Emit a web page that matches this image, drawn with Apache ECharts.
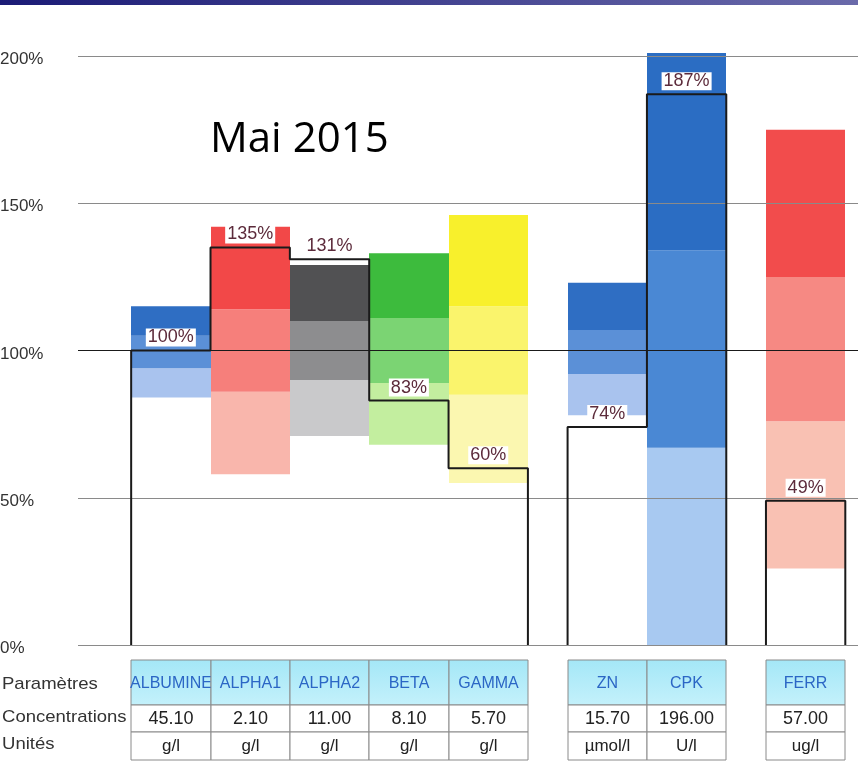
<!DOCTYPE html>
<html>
<head>
<meta charset="utf-8">
<script src="https://cdn.jsdelivr.net/npm/echarts@6/dist/echarts.min.js"></script>
<style>
  html, body { margin: 0; padding: 0; background: #fff; }
  #main { width: 858px; height: 774px; }
</style>
</head>
<body>
<div id="main"></div>
<script>
// --- data ---
var params = ['ALBUMINE', 'ALPHA1', 'ALPHA2', 'BETA', 'GAMMA', 'ZN', 'CPK', 'FERR'];
var panel = [0, 0, 0, 0, 0, 1, 1, 2];          // which table block each parameter belongs to
var concentrations = ['45.10', '2.10', '11.00', '8.10', '5.70', '15.70', '196.00', '57.00'];
var units = ['g/l', 'g/l', 'g/l', 'g/l', 'g/l', 'µmol/l', 'U/l', 'ug/l'];
var results = [100, 135, 131, 83, 60, 74, 187, 49];   // % of reference
// zone limits in %: bottom, then top of light / medium / dark band
var zoneAlbumine = [84, 94, 105, 115];
var zoneAlpha1 = [58, 86, 114, 142];
var zoneAlpha2 = [71, 90, 110, 129];
var zoneBeta = [68, 89, 111, 133];
var zoneGamma = [55, 85, 115, 146];
var zoneZn = [78, 92, 107, 123];
var zoneCpk = [0, 67, 134, 201];
var zoneFerr = [26, 76, 125, 175];
var zones = [zoneAlbumine, zoneAlpha1, zoneAlpha2, zoneBeta, zoneGamma, zoneZn, zoneCpk, zoneFerr];
var yTicks = [0, 50, 100, 150, 200];
var rowNames = ['Paramètres', 'Concentrations', 'Unités'];
var title = 'Mai 2015';

// --- styles ---
var blue = ['#a9c3ee', '#5b90d7', '#2f6ec3'];
var red = ['#f9b6ac', '#f67f7b', '#f24848'];
var gray = ['#c9c9cb', '#8d8d8f', '#515153'];
var green = ['#c3ee9f', '#7bd473', '#3dbb3d'];
var yellow = ['#fbf7b0', '#faf46c', '#f8f02c'];
var cpkBlue = ['#a8c9f1', '#4a88d4', '#2b6dc3'];
var ferrRed = ['#f9c1b3', '#f68983', '#f24c4c'];
var colColors = [blue, red, gray, green, yellow, blue, cpkBlue, ferrRed];
var sans = '"Liberation Sans", Arial, sans-serif';

// each table block is separated by half a column
function colStart(i) { return i + 0.5 * panel[i]; }

var bandData = [];
zones.forEach(function (z, i) {
    for (var b = 0; b < 3; b++) {
        bandData.push([colStart(i), z[b], z[b + 1], i, b]);
    }
});

var stepSeries = [0, 1, 2].map(function (g) {
    var idx = params.map(function (p, i) { return i; }).filter(function (i) { return panel[i] === g; });
    var pts = [[colStart(idx[0]), 0]];
    idx.forEach(function (i) {
        pts.push([colStart(i), results[i]]);
        pts.push([colStart(i) + 1, results[i]]);
    });
    pts.push([colStart(idx[idx.length - 1]) + 1, 0]);
    return {
        type: 'line',
        data: pts,
        symbol: 'none',
        silent: true,
        z: 5,
        lineStyle: { color: '#1a1a1a', width: 2 }
    };
});

var myChart = echarts.init(document.getElementById('main'));
myChart.setOption({
    animation: false,
    grid: { left: 78, right: 0, top: 56, bottom: 129, outerBoundsMode: 'none' },
    xAxis: {
        type: 'value',
        min: -0.67,
        max: 9.16,
        show: false
    },
    yAxis: {
        type: 'value',
        min: yTicks[0],
        max: yTicks[yTicks.length - 1],
        interval: 50,
        z: 4,
        axisLine: { show: false },
        axisTick: { show: false },
        axisLabel: {
            formatter: '{value}%',
            align: 'left',
            verticalAlign: 'top',
            lineHeight: 7,
            margin: 78,
            color: '#333333',
            fontSize: 17,
            fontFamily: sans
        },
        splitLine: {
            lineStyle: { color: ['#8a8a8a', '#8a8a8a', '#1a1a1a', '#8a8a8a', '#8a8a8a'], width: 1.2 }
        }
    },
    graphic: [
        {
            type: 'rect',
            shape: { x: 0, y: 0, width: 858, height: 5 },
            style: {
                fill: {
                    type: 'linear', x: 0, y: 0, x2: 1, y2: 0,
                    colorStops: [{ offset: 0, color: '#1b1b76' }, { offset: 1, color: '#6a6aaa' }]
                }
            }
        },
        {
            type: 'text',
            left: 210,
            top: 119,
            style: { text: title, font: '42px "Open Sans", sans-serif', fill: '#000' }
        }
    ].concat(rowNames.map(function (name, r) {
        return {
            type: 'text',
            x: 2,
            y: [676, 709, 736][r],
            scaleX: 1.09,
            style: { text: name, font: '17px ' + sans, fill: '#333' }
        };
    })),
    series: [
        {
            // reference zones, three shades per parameter
            type: 'custom',
            data: bandData,
            silent: true,
            z: 2,
            renderItem: function (p, api) {
                var a = api.coord([api.value(0), api.value(2)]);
                var b = api.coord([api.value(0) + 1, api.value(1)]);
                var x0 = Math.round(a[0]), x1 = Math.round(b[0]);
                return {
                    type: 'rect',
                    shape: { x: x0, y: a[1], width: x1 - x0, height: b[1] - a[1] },
                    style: { fill: colColors[api.value(3)][api.value(4)] }
                };
            }
        }
    ].concat(stepSeries).concat([
        {
            // patient result labels, sitting just above the step line
            type: 'custom',
            data: results.map(function (v, i) { return [colStart(i) + 0.5, v]; }),
            silent: true,
            z: 10,
            renderItem: function (p, api) {
                var pt = api.coord([api.value(0), api.value(1)]);
                return {
                    type: 'text',
                    style: {
                        x: pt[0], y: pt[1] - 13,
                        text: api.value(1) + '%',
                        align: 'center', verticalAlign: 'middle',
                        font: '18px ' + sans, fill: '#5c2b3b',
                        backgroundColor: '#ffffff', padding: [0, 2, 0, 2]
                    }
                };
            }
        },
        {
            // table under the chart
            type: 'custom',
            data: params.map(function (p, i) { return [colStart(i), 0, i]; }),
            silent: true,
            z: 10,
            renderItem: function (p, api) {
                var i = api.value(2);
                var x0 = Math.round(api.coord([api.value(0), 0])[0]);
                var x1 = Math.round(api.coord([api.value(0) + 1, 0])[0]);
                var w = x1 - x0, cx = (x0 + x1) / 2;
                var border = { stroke: '#8a8a8a', lineWidth: 1 };
                return {
                    type: 'group',
                    children: [
                        { type: 'rect', shape: { x: x0, y: 660, width: w, height: 45 },
                          style: Object.assign({ fill: { type: 'linear', x: 0, y: 0, x2: 0, y2: 1,
                              colorStops: [{ offset: 0, color: '#a4e7f7' }, { offset: 1, color: '#c4f1fb' }] } }, border) },
                        { type: 'rect', shape: { x: x0, y: 705, width: w, height: 27 },
                          style: Object.assign({ fill: '#fff' }, border) },
                        { type: 'rect', shape: { x: x0, y: 732, width: w, height: 28 },
                          style: Object.assign({ fill: '#fff' }, border) },
                        { type: 'text', style: { x: cx, y: 684, text: params[i], align: 'center', verticalAlign: 'middle',
                          font: '16px ' + sans, fill: '#2b66c5' } },
                        { type: 'text', style: { x: cx, y: 719, text: concentrations[i], align: 'center', verticalAlign: 'middle',
                          font: '18px ' + sans, fill: '#222' } },
                        { type: 'text', style: { x: cx, y: 746, text: units[i], align: 'center', verticalAlign: 'middle',
                          font: '17px ' + sans, fill: '#222' } }
                    ]
                };
            }
        }
    ])
});
</script>
</body>
</html>
